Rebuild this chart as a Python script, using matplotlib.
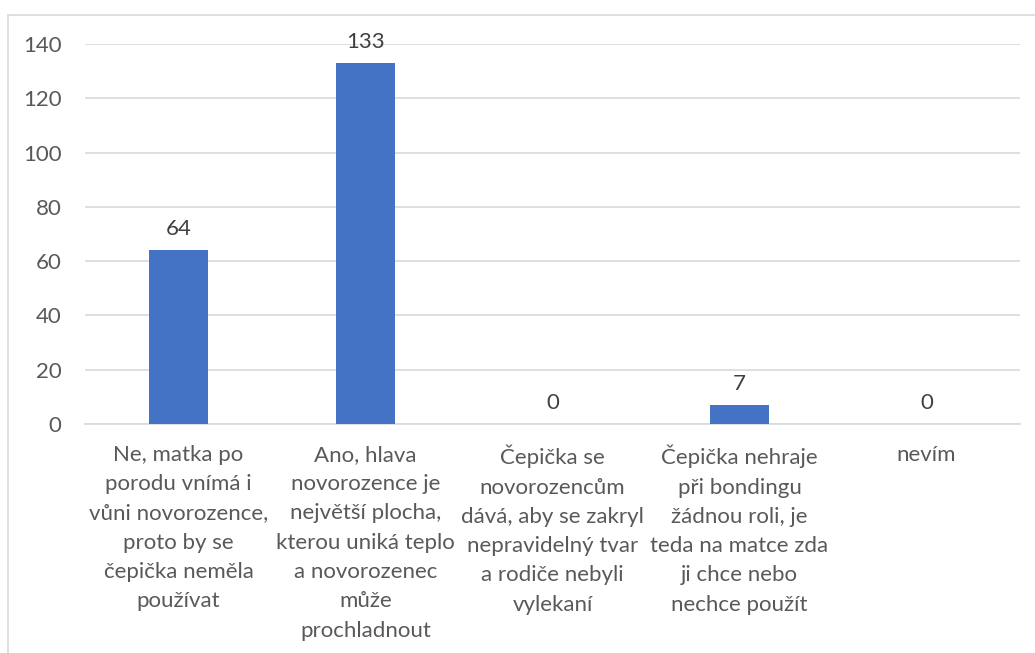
import matplotlib.pyplot as plt
from matplotlib.patches import Rectangle

kategorie = [
    'Ne, matka po\nporodu vnímá i\nvůni novorozence,\nproto by se\nčepička neměla\npoužívat',
    'Ano, hlava\nnovorozence je\nnejvětší plocha,\nkterou uniká teplo\na novorozenec\nmůže\nprochladnout',
    'Čepička se\nnovorozencům\ndává, aby se zakryl\nnepravidelný tvar\na rodiče nebyli\nvylekaní',
    'Čepička nehraje\npři bondingu\nžádnou roli, je\nteda na matce zda\nji chce nebo\nnechce použít',
    'nevím',
]
hodnoty = [64, 133, 0, 7, 0]
yticks = [0, 20, 40, 60, 80, 100, 120, 140]

plt.rcParams['font.family'] = ['Lato', 'DejaVu Sans']
text_col = '#595959'
grid_col = '#D9D9D9'

fig = plt.figure(figsize=(10.35, 6.53), dpi=100)
ax = fig.add_axes([85 / 1035, 1 - 424 / 653, 935 / 1035, 380 / 653])

# ramecek grafu
fig.patches.append(Rectangle((8 / 1035, -0.1), 1.2, 1 - 15 / 653 + 0.1,
                             transform=fig.transFigure, fill=False,
                             edgecolor=grid_col, linewidth=1.2))

x = range(len(hodnoty))
ax.bar(x, hodnoty, width=0.315, color='#4472C4', zorder=3)
for i, v in zip(x, hodnoty):
    ax.annotate(str(v), (i, v), xytext=(0, 8), textcoords='offset points',
                ha='center', va='bottom', fontsize=16, color='#404040')

ax.set_xlim(-0.5, len(hodnoty) - 0.5)
ax.set_ylim(0, 140)
ax.set_yticks(yticks)
ax.grid(True, axis='y', color=grid_col, linewidth=1.2, zorder=0)
ax.set_xticks(list(x))
ax.set_xticklabels(kategorie, fontsize=16, color=text_col, linespacing=1.58)
ax.tick_params(axis='y', labelsize=16, labelcolor=text_col, length=0, pad=17)
ax.tick_params(axis='x', length=0, pad=15)
for s in ['top', 'right', 'left']:
    ax.spines[s].set_visible(False)
ax.spines['bottom'].set_color(grid_col)
ax.spines['bottom'].set_linewidth(1.2)

plt.savefig('out.png', dpi=100)
